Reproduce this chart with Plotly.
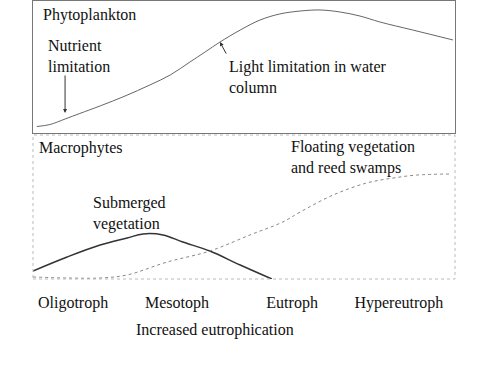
import plotly.graph_objects as go

# Eutrophication level (0-100) and relative abundance (0-100)
phyto_x = [0.9, 4.0, 7.6, 11.1, 15.9, 21.8, 27.7, 32.5, 37.2, 40.8, 44.3, 49.1, 53.8, 58.5, 63.3, 68.0, 72.7, 77.5, 82.2, 90.0, 99.5]
phyto_y = [4.9, 6.4, 10.6, 14.8, 20.5, 28.0, 36.4, 43.9, 53.8, 61.4, 68.9, 78.0, 85.6, 90.2, 92.4, 93.2, 91.7, 88.6, 84.1, 78.0, 70.5]

sub_x = [0, 8.1, 15.9, 22.3, 26.1, 30.8, 35.5, 41.9, 49.1, 56.6]
sub_y = [5.6, 15.3, 23.6, 28.5, 31.3, 30.6, 25.7, 19.4, 9.7, 0]

float_x = [0, 8.1, 15.9, 22.3, 31.8, 41.9, 51.4, 59.2, 63.3, 71.1, 79.1, 85.3, 91.0, 99.3]
float_y = [1.4, 0.7, 0.7, 2.8, 11.8, 19.4, 30.6, 39.6, 46.5, 58.3, 66.7, 70.1, 72.2, 72.9]

stage_pos = [9.5, 34.1, 61.4, 86.7]
stage_labels = ["Oligotroph", "Mesotoph", "Eutroph", "Hypereutroph"]

FONT = "Liberation Serif, Times New Roman, serif"
FS = 16
W, H = 487, 365

fig = go.Figure()
fig.add_trace(go.Scatter(x=phyto_x, y=phyto_y, mode="lines", line=dict(color="#666", width=1, shape="spline"),
                         xaxis="x", yaxis="y", showlegend=False, hoverinfo="skip"))
fig.add_trace(go.Scatter(x=sub_x, y=sub_y, mode="lines", line=dict(color="#333", width=1.5, shape="spline"),
                         xaxis="x2", yaxis="y2", showlegend=False, hoverinfo="skip"))
fig.add_trace(go.Scatter(x=float_x, y=float_y, mode="lines", line=dict(color="#888", width=1, dash="dot", shape="spline"),
                         xaxis="x2", yaxis="y2", showlegend=False, hoverinfo="skip"))

xdom = [33 / W, 455 / W]
fig.update_layout(
    width=W, height=H, margin=dict(l=0, r=0, t=0, b=0),
    paper_bgcolor="white", plot_bgcolor="white",
    font=dict(family=FONT, size=FS, color="#111"),
    xaxis=dict(domain=xdom, range=[0, 100], showticklabels=False, showgrid=False, zeroline=False,
               showline=True, mirror=True, linecolor="#777", linewidth=1, ticks="", anchor="y"),
    yaxis=dict(domain=[1 - 133 / H, 1 - 1 / H], range=[0, 100], showticklabels=False, showgrid=False, zeroline=False,
               showline=True, mirror=True, linecolor="#777", linewidth=1, ticks="", anchor="x"),
    xaxis2=dict(domain=xdom, range=[0, 100], showgrid=False, zeroline=False, showline=False,
                tickvals=stage_pos, ticktext=stage_labels, ticks="", ticklabelstandoff=12,
                tickfont=dict(family=FONT, size=FS, color="#111"), anchor="y2"),
    yaxis2=dict(domain=[1 - 279 / H, 1 - 135 / H], range=[0, 100], showticklabels=False, showgrid=False,
                zeroline=False, showline=False, anchor="x2"),
    shapes=[dict(type="rect", xref="x2 domain", yref="y2 domain", x0=0, x1=1, y0=0, y1=1,
                 line=dict(color="#bbb", width=1, dash="dot"))],
)

ann = []
def txt(text, x, y, xr, yr, xanchor="left"):
    ann.append(dict(text=text, x=x, y=y, xref=xr, yref=yr, xanchor=xanchor, yanchor="middle",
                    showarrow=False, align="left", font=dict(family=FONT, size=FS, color="#111")))

txt("Phytoplankton", 1.8, 89.4, "x", "y")
txt("Nutrient<br>limitation", 3.0, 58.7, "x", "y")
txt("Light limitation in water<br>column", 45.9, 42.8, "x", "y")
txt("Macrophytes", 0.9, 91.0, "x2", "y2")
txt("Floating vegetation<br>and reed swamps", 60.6, 84.4, "x2", "y2")
txt("Submerged<br>vegetation", 13.7, 45.5, "x2", "y2")
txt("Increased eutrophication", 215 / W, 1 - 330 / H, "paper", "paper", xanchor="center")

ann.append(dict(x=7.6, y=15.2, xref="x", yref="y", text="", showarrow=True, ax=0, ay=-39,
                arrowhead=2, arrowsize=0.8, arrowwidth=1, arrowcolor="#333"))
ann.append(dict(x=44.3, y=68.9, xref="x", yref="y", text="", showarrow=True, ax=7, ay=13,
                arrowhead=2, arrowsize=0.8, arrowwidth=1, arrowcolor="#333"))
fig.update_layout(annotations=ann)

fig.write_html("out.html", config={"displayModeBar": False, "staticPlot": True},
               post_script="document.body.style.margin='0';")
